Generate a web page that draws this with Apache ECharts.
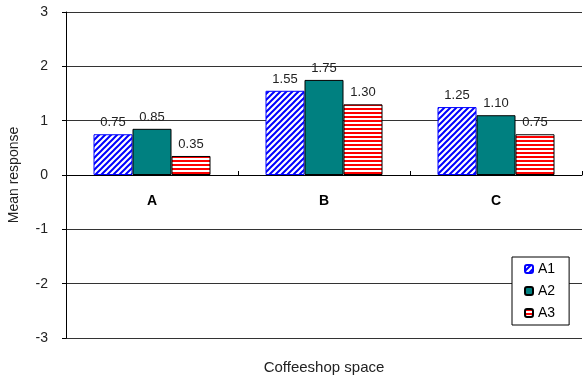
<!DOCTYPE html>
<html>
<head>
<meta charset="utf-8">
<script src="https://cdn.jsdelivr.net/npm/echarts@6/dist/echarts.min.js"></script>
<style>
    html, body { margin: 0; padding: 0; background: #fff; }
    #chart { width: 583px; height: 376px; }
</style>
</head>
<body>
<div id="chart"></div>
<script>
var categories = ['A', 'B', 'C'];
var seriesNames = ['A1', 'A2', 'A3'];
var a1 = [0.75, 1.55, 1.25];
var a2 = [0.85, 1.75, 1.10];
var a3 = [0.35, 1.30, 0.75];
var yTicks = [-3, -2, -1, 0, 1, 2, 3];

// hatch patterns like the old excel fills
function makeDiag(){
    var c = document.createElement('canvas');
    c.width = 6; c.height = 6;
    var ctx = c.getContext('2d');
    ctx.fillStyle = '#fff';
    ctx.fillRect(0, 0, 6, 6);
    ctx.strokeStyle = '#0000ff';
    ctx.lineWidth = 2;
    ctx.beginPath();
    ctx.moveTo(-1, 7); ctx.lineTo(7, -1);
    ctx.moveTo(-1, 1); ctx.lineTo(1, -1);
    ctx.moveTo(5, 7); ctx.lineTo(7, 5);
    ctx.stroke();
    return c;
}
function makeHoriz(){
    var c = document.createElement('canvas');
    c.width = 4; c.height = 4;
    var ctx = c.getContext('2d');
    ctx.fillStyle = '#fff';
    ctx.fillRect(0, 0, 4, 4);
    ctx.fillStyle = '#ff0000';
    ctx.fillRect(0, 0, 4, 2);
    return c;
}

var myChart = echarts.init(document.getElementById('chart'));
var labelStyle = {
    show: true,
    position: 'top',
    distance: 5,
    fontFamily: 'Liberation Sans',
    fontSize: 13,
    color: '#222',
    formatter: function (p) { return p.value.toFixed(2); }
};

var option = {
    backgroundColor: '#fff',
    animation: false,
    grid: {
        left: 66,
        right: 1,
        top: 12,
        bottom: 38,
        containLabel: false,
        outerBoundsMode: 'none'
    },
    legend: {
        orient: 'vertical',
        left: 512,
        top: 257,
        data: seriesNames,
        itemWidth: 8,
        itemHeight: 8,
        itemGap: 8,
        padding: [5, 14, 5, 12],
        backgroundColor: '#fff',
        borderColor: '#000',
        borderWidth: 1,
        borderRadius: 0,
        textStyle: {
            fontFamily: 'Liberation Sans',
            fontSize: 14,
            color: '#000'
        }
    },
    xAxis: {
        type: 'category',
        data: categories,
        name: 'Coffeeshop space',
        nameLocation: 'middle',
        nameGap: 22,
        nameTextStyle: {
            fontFamily: 'Liberation Sans',
            fontSize: 15,
            color: '#222'
        },
        axisLine: {
            onZero: true,
            lineStyle: { color: '#000', width: 1 }
        },
        axisTick: {
            show: true,
            inside: true,
            length: 4,
            lineStyle: { color: '#000' }
        },
        axisLabel: {
            margin: -144,
            fontFamily: 'Liberation Sans',
            fontSize: 14,
            fontWeight: 'bold',
            color: '#000'
        },
        splitLine: { show: false }
    },
    yAxis: {
        type: 'value',
        min: yTicks[0],
        max: yTicks[yTicks.length - 1],
        interval: 1,
        name: 'Mean response',
        nameLocation: 'middle',
        nameGap: 45,
        nameRotate: 90,
        nameTextStyle: {
            fontFamily: 'Liberation Sans',
            fontSize: 14,
            color: '#222'
        },
        axisLine: {
            show: true,
            lineStyle: { color: '#000', width: 1 }
        },
        axisTick: {
            show: true,
            length: 4,
            lineStyle: { color: '#000' }
        },
        axisLabel: {
            margin: 18,
            fontFamily: 'Liberation Sans',
            fontSize: 14,
            color: '#222'
        },
        splitLine: {
            show: true,
            lineStyle: { color: '#333', width: 1, type: 'solid' }
        }
    },
    series: [
        {
            name: seriesNames[0],
            type: 'bar',
            data: a1,
            barWidth: 39,
            barGap: '0%',
            itemStyle: {
                color: { image: makeDiag(), repeat: 'repeat' },
                borderColor: '#0000ff',
                borderWidth: 1
            },
            label: labelStyle
        },
        {
            name: seriesNames[1],
            type: 'bar',
            data: a2,
            barWidth: 39,
            barGap: '0%',
            itemStyle: {
                color: '#008080',
                borderColor: '#000',
                borderWidth: 1
            },
            label: labelStyle
        },
        {
            name: seriesNames[2],
            type: 'bar',
            data: a3,
            barWidth: 39,
            barGap: '0%',
            itemStyle: {
                color: { image: makeHoriz(), repeat: 'repeat' },
                borderColor: '#000',
                borderWidth: 1
            },
            label: labelStyle
        }
    ]
};

myChart.setOption(option);
</script>
</body>
</html>
